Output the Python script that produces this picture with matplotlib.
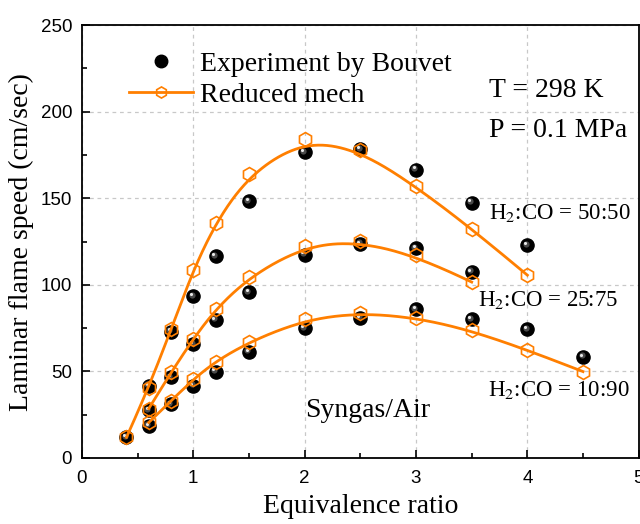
import matplotlib
matplotlib.use("Agg")
import matplotlib.pyplot as plt
import matplotlib.transforms as mtransforms
from matplotlib.lines import Line2D
import numpy as np

plt.rcParams["mathtext.fontset"] = "stix"

# equivalence ratios
phi_exp_5050 = [0.4, 0.6, 0.8, 1.0, 1.2, 1.5, 2.0, 2.5, 3.0, 3.5, 4.0]
phi_exp_2575 = [0.6, 0.8, 1.0, 1.2, 1.5, 2.0, 2.5, 3.0, 3.5]
phi_exp_1090 = [0.6, 0.8, 1.0, 1.2, 1.5, 2.0, 2.5, 3.0, 3.5, 4.0, 4.5]

# measured flame speeds, cm/s (Bouvet)
su_exp_5050 = [11.9, 41.6, 73.0, 93.5, 116.5, 148.2, 176.6, 178.4, 166.5, 147.5, 122.9]
su_exp_2575 = [27.6, 46.5, 65.7, 79.7, 95.8, 117.5, 123.7, 121.0, 107.5]
su_exp_1090 = [18.6, 31.1, 41.6, 49.9, 61.2, 74.9, 81.0, 85.8, 80.0, 74.3, 58.4]

phi_sim_5050 = [0.4, 0.6, 0.8, 1.0, 1.2, 1.5, 2.0, 2.5, 3.0, 3.5, 4.0]
phi_sim_2575 = [0.6, 0.8, 1.0, 1.2, 1.5, 2.0, 2.5, 3.0, 3.5]
phi_sim_1090 = [0.6, 0.8, 1.0, 1.2, 1.5, 2.0, 2.5, 3.0, 3.5, 4.0, 4.5]

# reduced mechanism predictions, cm/s
su_sim_5050 = [11.9, 40.5, 74.3, 108.5, 135.8, 164.0, 184.3, 177.6, 156.9, 132.5, 105.6]
su_sim_2575 = [28.5, 49.4, 69.0, 85.8, 104.5, 122.7, 125.6, 117.0, 101.6]
su_sim_1090 = [20.5, 33.0, 45.5, 55.7, 67.0, 80.0, 83.9, 81.0, 73.7, 62.4, 49.9]

ORANGE = "#FF7F00"
SERIF = "Liberation Serif"
SANS = "Liberation Sans"


def bspline(xs, ys, n=300, k=3):
    # clamped uniform B-spline with the data points as control points
    P = np.column_stack([xs, ys])
    m = len(P)
    knots = np.concatenate([np.zeros(k), np.arange(m - k + 1), np.full(k, m - k)]).astype(float)
    t = np.linspace(0, m - k, n)
    t[-1] -= 1e-9

    def basis(i, d, t):
        if d == 0:
            return ((knots[i] <= t) & (t < knots[i + 1])).astype(float)
        out = np.zeros_like(t)
        den1 = knots[i + d] - knots[i]
        den2 = knots[i + d + 1] - knots[i + 1]
        if den1 > 0:
            out += (t - knots[i]) / den1 * basis(i, d - 1, t)
        if den2 > 0:
            out += (knots[i + d + 1] - t) / den2 * basis(i + 1, d - 1, t)
        return out

    curve = sum(basis(i, k, t)[:, None] * P[i] for i in range(m))
    return curve[:, 0], curve[:, 1]


def draw_spheres(ax, fig, x, y):
    ax.scatter(x, y, s=90, color="black", zorder=3)
    mid = mtransforms.offset_copy(ax.transData, fig=fig, x=-1.1, y=1.1, units="points")
    ax.scatter(x, y, s=20, color="#4a4a4a", transform=mid, zorder=3.1, linewidths=0)
    hi = mtransforms.offset_copy(ax.transData, fig=fig, x=-1.6, y=1.6, units="points")
    ax.scatter(x, y, s=5, color="#e8e8e8", transform=hi, zorder=3.2, linewidths=0)


fig = plt.figure(figsize=(6.4, 5.24), dpi=100)
ax = fig.add_axes([0.128, 0.126, 0.870, 0.826])

for x, y in [(phi_exp_5050, su_exp_5050), (phi_exp_2575, su_exp_2575), (phi_exp_1090, su_exp_1090)]:
    draw_spheres(ax, fig, x, y)

for x, y in [(phi_sim_5050, su_sim_5050), (phi_sim_2575, su_sim_2575), (phi_sim_1090, su_sim_1090)]:
    bx, by = bspline(x, y)
    ax.plot(bx, by, color=ORANGE, lw=2.0, zorder=4)
    ax.plot(x, y, ls="none", marker="h", ms=10, mfc="none", mec=ORANGE, mew=1.2, zorder=5)

ax.set_xlim(0, 5)
ax.set_ylim(0, 250)
ax.set_xticks(np.arange(0, 6, 1))
ax.set_xticks(np.arange(0.5, 5, 1), minor=True)
ax.set_yticks(np.arange(0, 251, 50))
ax.set_yticks(np.arange(25, 250, 50), minor=True)
ax.tick_params(which="both", direction="in", top=False, right=False, width=1.2)
ax.tick_params(which="major", length=6, labelsize=13.5)
ax.tick_params(axis="x", which="major", pad=9)
ax.tick_params(axis="y", which="major", pad=7)
ax.tick_params(which="minor", length=3.5)
for lab in ax.get_xticklabels() + ax.get_yticklabels():
    lab.set_fontfamily(SANS)
for sp in ax.spines.values():
    sp.set_linewidth(1.3)
ax.grid(True, which="major", ls=(0, (3, 3)), color="#c8c8c8", lw=0.9)

ax.set_xlabel("Equivalence ratio", fontsize=20, family=SERIF, labelpad=5)
ax.set_ylabel("Laminar flame speed (cm/sec)", fontsize=20, family=SERIF, labelpad=5)

handles = [
    Line2D([], [], ls="none", marker="o", ms=9, color="black"),
    Line2D([], [], color=ORANGE, lw=2.0, marker="h", ms=8, mfc="none", mec=ORANGE, mew=1.2),
]
ax.legend(handles, ["Experiment by Bouvet", "Reduced mech"], loc="upper left",
          bbox_to_anchor=(0.045, 0.99), frameon=False, handlelength=2.3, handletextpad=0.25,
          labelspacing=0.2, borderpad=0.3, prop={"family": SERIF, "size": 20})

ax.text(3.66, 212.5, "T = 298 K", fontsize=20, family=SERIF, va="center")
ax.text(3.66, 189, "P = 0.1 MPa", fontsize=20, family=SERIF, va="center")
ax.text(3.66, 141.5, "H$_2$:CO = 50:50", fontsize=16.5, family=SERIF, va="center")
ax.text(3.56, 91, "H$_2$:CO = 25:75", fontsize=16.5, family=SERIF, va="center")
ax.text(3.65, 39, "H$_2$:CO = 10:90", fontsize=16.5, family=SERIF, va="center")
ax.text(2.0, 27.7, "Syngas/Air", fontsize=20, family=SERIF, va="center")

fig.savefig("out.png", dpi=100)
